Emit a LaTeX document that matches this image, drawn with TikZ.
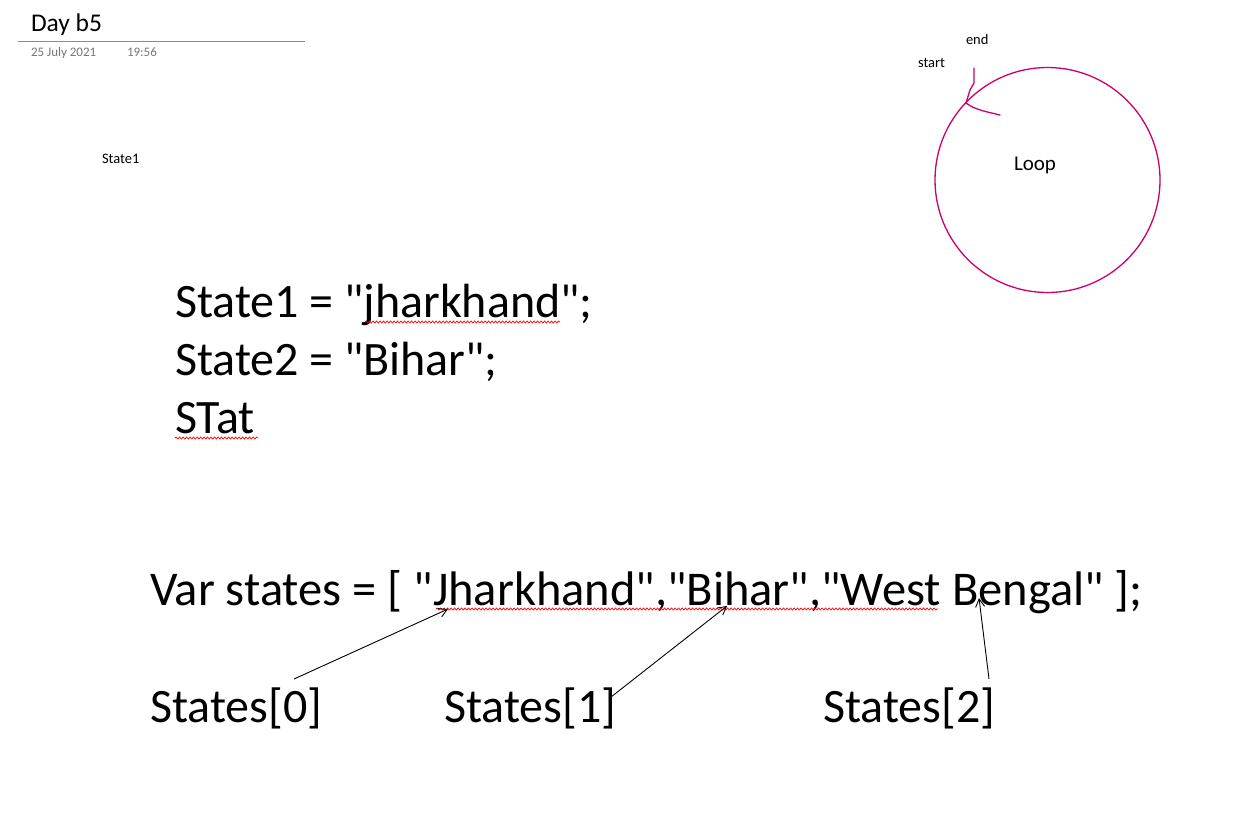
\documentclass[tikz,border=0pt]{standalone}
\usepackage{fontspec}
\setmainfont{Carlito}[Ligatures=TeXOff]
\usetikzlibrary{arrows.meta,decorations.pathmorphing}
\definecolor{pen}{RGB}{204,0,102}
\definecolor{hdrgray}{RGB}{118,118,118}
\definecolor{rulegray}{RGB}{140,140,140}
\tikzset{
  txt/.style={anchor=base west, inner sep=0pt, outer sep=0pt},
  big/.style={txt, font=\fontsize{48}{58}\selectfont},
  small/.style={txt, font=\fontsize{14.5}{17}\selectfont},
  ptr/.style={draw=black, line width=0.9pt, -{Straight Barb[length=8pt,width=9pt]}},
  squig/.style={draw=red, line width=0.7pt, decorate, decoration={snake, amplitude=1pt, segment length=3.5pt}},
}
\begin{document}
\begin{tikzpicture}[x=1pt,y=-1pt]
\useasboundingbox (0,0) rectangle (1247,812);
% header
\node[txt, font=\fontsize{25.5}{30}\selectfont] (title) at (31,31) {Day b5};
\draw[rulegray, line width=0.8pt] (18,41) -- (305,41);
\node[txt, text=hdrgray, font=\fontsize{13}{15}\selectfont] (date) at (31,56) {25 July 2021};
\node[txt, text=hdrgray, font=\fontsize{13}{15}\selectfont] (time) at (127,56) {19:56};
\node[small] (st1) at (102,163) {State1};
% loop sketch
\node[small] (endl) at (966,44) {end};
\node[small] (startl) at (918,67) {start};
\node[txt, font=\fontsize{21}{25}\selectfont] (loop) at (1014,170) {Loop};
\draw[pen, line width=1.3pt] (1047.5,180) circle (112.5);
\coordinate (pa) at (974,68);
\coordinate (pb) at (966,103);
\coordinate (pc) at (1000,115);
\draw[pen, line width=1.3pt, line cap=round, line join=round] (pa) -- (974,83) -- (970,90) -- (pb);
\draw[pen, line width=1.3pt, line cap=round] (pb) .. controls (975,110) and (988,112) .. (pc);
% code lines
\node[big] (l1) at (175,317) {State1 = "jharkhand";};
\node[big] (l2) at (175,375) {State2 = "Bihar";};
\node[big] (l3) at (175,433) {STat};
\draw[squig] (365,322) -- (560,322);
\draw[squig] (175,438) -- (258,438);
\node[big, font=\fontsize{48.5}{58}\selectfont] (arr) at (150,605) {Var states = [ "Jharkhand","Bihar","West Bengal" ];};
\draw[squig] (436,609) -- (938,609);
% indices
\node[big] (s0) at (150,722) {States[0]};
\node[big] (s1) at (444,722) {States[1]};
\node[big] (s2) at (823,722) {States[2]};
\coordinate (a0s) at (294,679);
\coordinate (a0e) at (448,609);
\coordinate (a1s) at (611,697);
\coordinate (a1e) at (727,606);
\coordinate (a2s) at (989,679);
\coordinate (a2e) at (979,598);
\draw[ptr] (a0s) -- (a0e);
\draw[ptr] (a1s) -- (a1e);
\draw[ptr] (a2s) -- (a2e);
\end{tikzpicture}
\end{document}
